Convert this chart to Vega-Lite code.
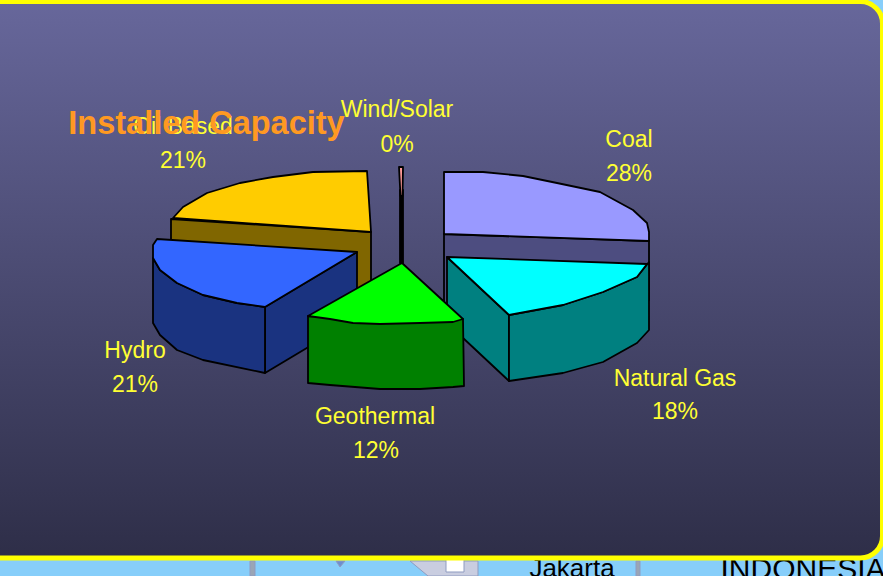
{"$schema":"https://vega.github.io/schema/vega-lite/v6.json","width":883,"height":576,"padding":0,"autosize":{"type":"fit","contains":"padding"},"background":"#87cefa","config":{"view":{"stroke":null}},
"resolve":{"scale":{"color":"independent"}},
"datasets":{"panel":[{"x":-40,"x2":882.5,"y":1.5,"y2":558}],
"map":[{"p":"m1","i":0,"x":410,"y":561},{"p":"m1","i":1,"x":478,"y":561},{"p":"m1","i":2,"x":478,"y":576},{"p":"m1","i":3,"x":428,"y":576},
{"p":"m2","i":0,"x":446,"y":558},{"p":"m2","i":1,"x":464,"y":558},{"p":"m2","i":2,"x":464,"y":572},{"p":"m2","i":3,"x":446,"y":572},
{"p":"m3","i":0,"x":250,"y":561},{"p":"m3","i":1,"x":255,"y":561},{"p":"m3","i":2,"x":255,"y":576},{"p":"m3","i":3,"x":250,"y":576},
{"p":"m4","i":0,"x":336,"y":561},{"p":"m4","i":1,"x":345,"y":561},{"p":"m4","i":2,"x":340,"y":567},
{"p":"m5","i":0,"x":636,"y":561},{"p":"m5","i":1,"x":640,"y":561},{"p":"m5","i":2,"x":640,"y":576},{"p":"m5","i":3,"x":636,"y":576}],
"maptext":[{"t":"Jakarta","x":572,"y":577,"s":26},{"t":"INDONESIA","x":803,"y":579,"s":30}],
"pie":[
{"p":"coal side","i":0,"x":444,"y":234},{"p":"coal side","i":1,"x":649,"y":241},{"p":"coal side","i":2,"x":649,"y":300},{"p":"coal side","i":3,"x":444,"y":310},
{"p":"coal top","i":0,"x":444,"y":172},{"p":"coal top","i":1,"x":483,"y":172},{"p":"coal top","i":2,"x":523,"y":176},{"p":"coal top","i":3,"x":557,"y":183},{"p":"coal top","i":4,"x":600,"y":192},{"p":"coal top","i":5,"x":633,"y":210},{"p":"coal top","i":6,"x":647,"y":223},{"p":"coal top","i":7,"x":649,"y":232},{"p":"coal top","i":8,"x":649,"y":241},{"p":"coal top","i":9,"x":444,"y":234},
{"p":"oil side","i":0,"x":171,"y":219},{"p":"oil side","i":1,"x":371,"y":232},{"p":"oil side","i":2,"x":371,"y":300},{"p":"oil side","i":3,"x":171,"y":260},
{"p":"oil top","i":0,"x":173,"y":218},{"p":"oil top","i":1,"x":183,"y":207},{"p":"oil top","i":2,"x":207,"y":193},{"p":"oil top","i":3,"x":240,"y":183},{"p":"oil top","i":4,"x":273,"y":177},{"p":"oil top","i":5,"x":313,"y":172},{"p":"oil top","i":6,"x":367,"y":171},{"p":"oil top","i":7,"x":371,"y":232},
{"p":"hydro right","i":0,"x":265,"y":307},{"p":"hydro right","i":1,"x":357,"y":252},{"p":"hydro right","i":2,"x":357,"y":318},{"p":"hydro right","i":3,"x":265,"y":373},
{"p":"hydro front","i":0,"x":153,"y":258},{"p":"hydro front","i":1,"x":160,"y":270},{"p":"hydro front","i":2,"x":177,"y":283},{"p":"hydro front","i":3,"x":203,"y":295},{"p":"hydro front","i":4,"x":237,"y":303},{"p":"hydro front","i":5,"x":265,"y":307},{"p":"hydro front","i":6,"x":265,"y":373},{"p":"hydro front","i":7,"x":203,"y":360},{"p":"hydro front","i":8,"x":177,"y":350},{"p":"hydro front","i":9,"x":160,"y":335},{"p":"hydro front","i":10,"x":153,"y":323},
{"p":"hydro top","i":0,"x":157,"y":239},{"p":"hydro top","i":1,"x":153,"y":245},{"p":"hydro top","i":2,"x":153,"y":258},{"p":"hydro top","i":3,"x":160,"y":270},{"p":"hydro top","i":4,"x":177,"y":283},{"p":"hydro top","i":5,"x":203,"y":295},{"p":"hydro top","i":6,"x":237,"y":303},{"p":"hydro top","i":7,"x":265,"y":307},{"p":"hydro top","i":8,"x":357,"y":252},
{"p":"wind side","i":0,"x":400,"y":190},{"p":"wind side","i":1,"x":403,"y":190},{"p":"wind side","i":2,"x":403,"y":263},{"p":"wind side","i":3,"x":400,"y":263},
{"p":"wind top","i":0,"x":399,"y":167},{"p":"wind top","i":1,"x":403,"y":167},{"p":"wind top","i":2,"x":402.5,"y":196},{"p":"wind top","i":3,"x":400.5,"y":196},
{"p":"gas left","i":0,"x":447,"y":257},{"p":"gas left","i":1,"x":509,"y":315},{"p":"gas left","i":2,"x":509,"y":381},{"p":"gas left","i":3,"x":447,"y":323},
{"p":"gas front","i":0,"x":509,"y":315},{"p":"gas front","i":1,"x":563,"y":305},{"p":"gas front","i":2,"x":603,"y":292},{"p":"gas front","i":3,"x":637,"y":277},{"p":"gas front","i":4,"x":649,"y":262},{"p":"gas front","i":5,"x":649,"y":330},{"p":"gas front","i":6,"x":637,"y":343},{"p":"gas front","i":7,"x":603,"y":362},{"p":"gas front","i":8,"x":563,"y":373},{"p":"gas front","i":9,"x":509,"y":381},
{"p":"gas top","i":0,"x":447,"y":257},{"p":"gas top","i":1,"x":647,"y":264},{"p":"gas top","i":2,"x":637,"y":277},{"p":"gas top","i":3,"x":603,"y":292},{"p":"gas top","i":4,"x":563,"y":305},{"p":"gas top","i":5,"x":509,"y":315},
{"p":"geo side","i":0,"x":308,"y":316},{"p":"geo side","i":1,"x":463,"y":319},{"p":"geo side","i":2,"x":464,"y":386},{"p":"geo side","i":3,"x":453,"y":387},{"p":"geo side","i":4,"x":420,"y":389},{"p":"geo side","i":5,"x":380,"y":389},{"p":"geo side","i":6,"x":330,"y":385},{"p":"geo side","i":7,"x":308,"y":383},
{"p":"geo top","i":0,"x":402,"y":263},{"p":"geo top","i":1,"x":463,"y":319},{"p":"geo top","i":2,"x":453,"y":322},{"p":"geo top","i":3,"x":420,"y":323},{"p":"geo top","i":4,"x":380,"y":324},{"p":"geo top","i":5,"x":353,"y":323},{"p":"geo top","i":6,"x":330,"y":319},{"p":"geo top","i":7,"x":308,"y":316}],
"labels":[{"t":"Wind/Solar","x":397,"y":110},{"t":"0%","x":397,"y":145},{"t":"Coal","x":629,"y":140},{"t":"28%","x":629,"y":174},{"t":"Oil Based","x":183,"y":127},{"t":"21%","x":183,"y":161},{"t":"Hydro","x":135,"y":351},{"t":"21%","x":135,"y":385},{"t":"Geothermal","x":375,"y":417},{"t":"12%","x":376,"y":451},{"t":"Natural Gas","x":675,"y":379},{"t":"18%","x":675,"y":412}],
"title":[{"t":"Installed Capacity","x":206.5,"y":124}]},
"encoding":{"x":{"field":"x","type":"quantitative","scale":{"domain":[0,883]},"axis":null},"y":{"field":"y","type":"quantitative","scale":{"domain":[576,0]},"axis":null}},
"layer":[
{"data":{"name":"map"},"mark":{"type":"line","filled":true,"interpolate":"linear-closed","stroke":"#8f9bc0","strokeWidth":1,"clip":true},"encoding":{"order":{"field":"i"},"color":{"field":"p","type":"nominal","legend":null,"scale":{"domain":["m1","m2","m3","m4","m5"],"range":["#c9cde0","#ffffff","#9aa5b5","#6d8fd0","#9aa5b5"]}}}},
{"data":{"name":"maptext"},"mark":{"type":"text","align":"center","baseline":"alphabetic","color":"#000000","font":"Liberation Sans","clip":true},"encoding":{"text":{"field":"t"},"size":{"field":"s","type":"quantitative","scale":null}}},
{"data":{"name":"panel"},"mark":{"type":"rect","clip":true,"cornerRadius":22,"stroke":"#ffff00","strokeWidth":5,"color":{"gradient":"linear","x1":0,"y1":0,"x2":0,"y2":1,"stops":[{"offset":0,"color":"#67679b"},{"offset":1,"color":"#2e2e48"}]}},"encoding":{"x":{"field":"x","type":"quantitative"},"x2":{"field":"x2"},"y":{"field":"y","type":"quantitative"},"y2":{"field":"y2"}}},
{"data":{"name":"pie"},"mark":{"type":"line","filled":true,"interpolate":"linear-closed","stroke":"#000000","strokeWidth":1.8,"strokeJoin":"round"},"encoding":{"order":{"field":"i"},"color":{"field":"p","type":"nominal","legend":null,"scale":{"domain":["coal side","coal top","oil side","oil top","hydro right","hydro front","hydro top","wind side","wind top","gas left","gas front","gas top","geo side","geo top"],"range":["#4d4d80","#9999ff","#806600","#ffcc00","#1a3380","#1a3380","#3366ff","#000000","#ff9999","#008080","#008080","#00ffff","#008000","#00ff00"]}}}},
{"data":{"name":"labels"},"mark":{"type":"text","align":"center","baseline":"middle","color":"#ffff33","font":"Liberation Sans","fontSize":23},"encoding":{"text":{"field":"t"}}},
{"data":{"name":"title"},"mark":{"type":"text","align":"center","baseline":"middle","color":"#ff9922","font":"Liberation Sans","fontWeight":"bold","fontSize":32.5},"encoding":{"text":{"field":"t"}}}
]}
